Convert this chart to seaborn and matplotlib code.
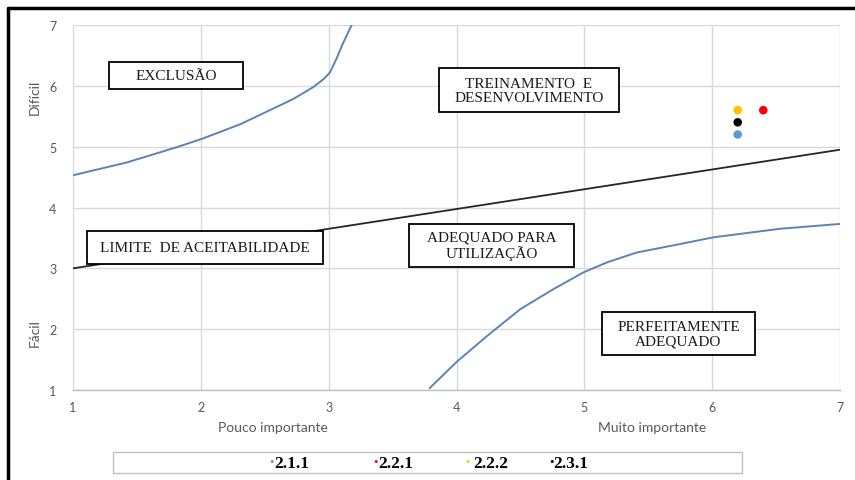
import matplotlib
matplotlib.use("Agg")
import matplotlib.pyplot as plt
import seaborn as sns
import pandas as pd
from matplotlib.patches import Rectangle
from matplotlib.lines import Line2D

# Exclusion boundary (upper-left curve)
excl_x = [1.00, 1.42, 1.81, 2.01, 2.31, 2.61, 2.72, 2.88, 2.96, 3.01, 3.06, 3.11, 3.18]
excl_y = [4.53, 4.74, 4.99, 5.13, 5.37, 5.67, 5.78, 5.98, 6.11, 6.22, 6.44, 6.69, 7.00]

# Perfectly adequate boundary (lower-right curve)
perf_x = [3.79, 4.00, 4.24, 4.50, 4.76, 4.99, 5.18, 5.41, 5.75, 6.01, 6.53, 7.00]
perf_y = [1.03, 1.46, 1.89, 2.33, 2.66, 2.93, 3.10, 3.26, 3.40, 3.51, 3.65, 3.73]

# Acceptability limit (straight line)
limit_x = [1.0, 7.0]
limit_y = [3.0, 4.95]

# Evaluated items
item_labels = ["2.1.1", "2.2.1", "2.2.2", "2.3.1"]
item_x = [6.2, 6.4, 6.2, 6.2]
item_y = [5.2, 5.6, 5.6, 5.4]
item_colors = ["#5B9BD5", "#FF0000", "#FFC000", "#000000"]

ticks = [1, 2, 3, 4, 5, 6, 7]

sns.set_theme(style="white")
plt.rcParams["font.family"] = ["Lato", "DejaVu Sans"]

fig = plt.figure(figsize=(8.55, 4.81), dpi=100)
ax = fig.add_axes([73 / 855, 1 - 391 / 481, (840 - 73) / 855, (391 - 26) / 481])

grid_c = "#d9d9d9"
ax.set_xlim(1, 7)
ax.set_ylim(1, 7)
ax.set_xticks(ticks)
ax.set_yticks(ticks)
ax.grid(True, color=grid_c, linewidth=1.0, zorder=0)
ax.set_axisbelow(True)
for s in ["top", "right", "left"]:
    ax.spines[s].set_visible(False)
ax.spines["bottom"].set_color("#bfbfbf")
ax.spines["bottom"].set_linewidth(1.0)
ax.tick_params(axis="both", length=0, labelsize=9, colors="#595959", pad=8)
ax.tick_params(axis="y", pad=12)

curve_c = "#5a84b6"
line_kw = dict(linewidth=1.4, sort=False, zorder=2, solid_joinstyle="round", solid_capstyle="round")
sns.lineplot(x=excl_x, y=excl_y, ax=ax, color=curve_c, **line_kw)
sns.lineplot(x=perf_x, y=perf_y, ax=ax, color=curve_c, **line_kw)
sns.lineplot(x=limit_x, y=limit_y, ax=ax, color="#262626", linewidth=1.3, sort=False, zorder=2)

pts = pd.DataFrame({"x": item_x, "y": item_y, "item": item_labels})
sns.scatterplot(data=pts, x="x", y="y", hue="item", palette=dict(zip(item_labels, item_colors)),
                s=38, edgecolor="none", ax=ax, legend=False, zorder=4)
ax.set_xlabel("")
ax.set_ylabel("")

# Region labels in boxes
regions = [
    ("EXCLUSÃO", 1.282, 2.330, 5.948, 6.392),
    ("TREINAMENTO  E\nDESENVOLVIMENTO", 3.863, 5.271, 5.570, 6.293),
    ("LIMITE  DE ACEITABILIDADE", 1.110, 2.956, 3.071, 3.614),
    ("ADEQUADO PARA\nUTILIZAÇÃO", 3.628, 4.919, 3.022, 3.729),
    ("PERFEITAMENTE\nADEQUADO", 5.138, 6.335, 1.575, 2.282),
]
for txt, x0, x1, y0, y1 in regions:
    ax.add_patch(Rectangle((x0, y0), x1 - x0, y1 - y0, facecolor="white",
                           edgecolor="black", linewidth=1.3, zorder=5))
    ax.text((x0 + x1) / 2, (y0 + y1) / 2, txt, ha="center", va="center",
            family="Liberation Serif", fontsize=11, color="#1a1a1a",
            linespacing=1.1, zorder=6)

# Axis titles
lab_c = "#595959"
fig.text(273 / 855, 1 - 428 / 481, "Pouco importante", ha="center", va="center", fontsize=10, color=lab_c)
fig.text(652 / 855, 1 - 428 / 481, "Muito importante", ha="center", va="center", fontsize=10, color=lab_c)
fig.text(35 / 855, 1 - 97 / 481, "Difícil", ha="center", va="center", rotation=90, fontsize=10, color=lab_c)
fig.text(35 / 855, 1 - 333 / 481, "Fácil", ha="center", va="center", rotation=90, fontsize=10, color=lab_c)

# Legend strip
fig.add_artist(Rectangle((113 / 855, 1 - 474 / 481), (742 - 113) / 855, 21 / 481,
                         transform=fig.transFigure, facecolor="white",
                         edgecolor="#bfbfbf", linewidth=1.0))
leg_pos = [(271, 274), (375, 378), (467, 473), (551, 553)]
for (bx, tx), lab, col in zip(leg_pos, item_labels, item_colors):
    fig.text(bx / 855, 1 - 463 / 481, "•", ha="center", va="center", color=col,
             family="Liberation Serif", fontsize=9)
    fig.text(tx / 855, 1 - 464 / 481, lab, ha="left", va="center", color="black",
             family="Liberation Serif", fontsize=12.5, fontweight="bold")

# Outer frame (left and top edges)
fig.add_artist(Line2D([8 / 855, 8 / 855], [0, 1 - 9 / 481], transform=fig.transFigure,
                      color="black", linewidth=2.5))
fig.add_artist(Line2D([8 / 855, 1], [1 - 9 / 481, 1 - 9 / 481], transform=fig.transFigure,
                      color="black", linewidth=2.5))

fig.savefig("out.png", dpi=100)
